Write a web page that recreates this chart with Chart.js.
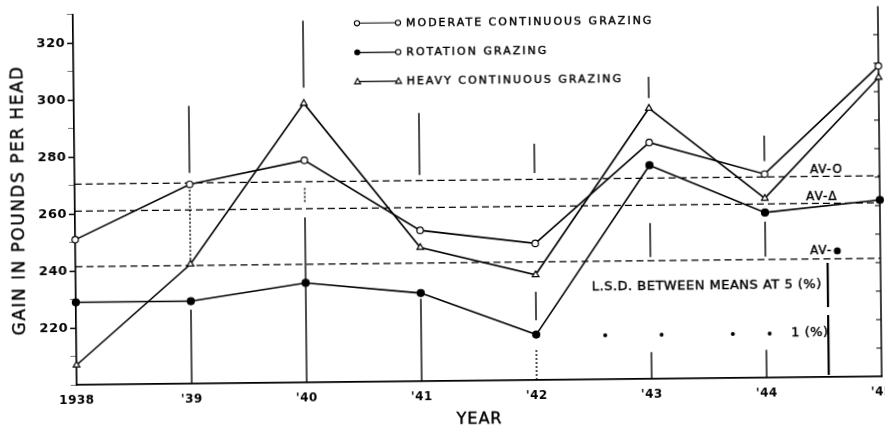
<!DOCTYPE html>
<html><head><meta charset="utf-8">
<script src="https://cdn.jsdelivr.net/npm/chart.js@4.4.1/dist/chart.umd.min.js"></script>
<style>
html,body{margin:0;padding:0;background:#fff;overflow:hidden;width:885px;height:436px}
#wrap{width:885px;height:436px;transform:rotate(-0.6deg);transform-origin:50% 50%;background:#fff}
canvas{display:block}
</style></head><body>
<div id="wrap"><canvas id="c" width="885" height="436"></canvas></div>
<script>
// ---- data ----
const years = [1938,1939,1940,1941,1942,1943,1944,1945];
const xTickLabels = ['1938',"'39","'40","'41","'42","'43","'44","'45"];
const yTickLabels = [220,240,260,280,300,320];
const moderate = [251,270,278,253,248,283,271.5,309];
const rotation = [229,229,235,231,216,275,258,262];
const heavy    = [207,242,298,247,237,295,263,305];
const seriesNames = ['MODERATE CONTINUOUS GRAZING','ROTATION GRAZING','HEAVY CONTINUOUS GRAZING'];
const averages = [270.5, 261, 241.5];          // AV-O, AV-Δ, AV-●
const averageLabels = ['AV-O','AV-Δ','AV-'];
const lsdYear = 1944.54;
const lsd5 = [240.1, 224.6];
const lsd1 = [221.8, 200.8];
const lsdLabels = ['L.S.D. BETWEEN MEANS AT 5 (%)','1 (%)'];
const lsdDotYears = [1942.6, 1943.09, 1943.71, 1944.03];
const lsdDotValue = 215.5;
// vertical year guide segments: [year, fromValue, toValue, dotted]
const gridSegments = [
  [1939, 297.5, 274, 0], [1939, 269.5, 243.5, 1], [1939, 226, 200, 0],
  [1940, 327, 303.5, 0], [1940, 268.3, 263.4, 1], [1940, 258, 200, 0],
  [1941, 294.2, 272.4, 0], [1941, 229, 200, 0],
  [1942, 283, 272.7, 0], [1942, 231, 221, 0], [1942, 210.6, 200, 1],
  [1943, 306, 298.6, 0], [1943, 254.7, 242.8, 0], [1943, 209.5, 200, 0],
  [1944, 285, 276, 0], [1944, 254.8, 242.5, 0], [1944, 209.8, 200, 0]
];

const FONT = '"DejaVu Sans", "Liberation Sans", sans-serif';

function pts(arr){ return years.map((yr,i)=>({x:yr, y:arr[i]})); }
function flat(v){ return [{x:years[0], y:v},{x:years[years.length-1], y:v}]; }
function txt(ctx, s, x, y){ ctx.fillText(s, x, y); ctx.strokeText(s, x, y); }

const deco = {
  id:'deco',
  beforeDraw(chart){ chart.ctx.letterSpacing = '0.5px'; },
  beforeDatasetsDraw(chart){
    const {ctx, chartArea:ca, scales:{x,y}} = chart;
    ctx.save();
    ctx.strokeStyle = '#000';
    ctx.lineWidth = 1.5;
    ctx.beginPath(); ctx.moveTo(ca.right, ca.top); ctx.lineTo(ca.right, ca.bottom); ctx.stroke();
    ctx.lineWidth = 1;
    for (let v = 210; v <= 320; v += 10){
      const py = y.getPixelForValue(v);
      ctx.beginPath(); ctx.moveTo(ca.right-5, py); ctx.lineTo(ca.right, py); ctx.stroke();
    }
    for (const [yr,a,b,dotted] of gridSegments){
      const px = x.getPixelForValue(yr);
      ctx.lineWidth = 1.4;
      ctx.setLineDash(dotted ? [2,2] : []);
      ctx.beginPath(); ctx.moveTo(px, y.getPixelForValue(a)); ctx.lineTo(px, y.getPixelForValue(b)); ctx.stroke();
    }
    ctx.setLineDash([]);
    const lx = x.getPixelForValue(lsdYear);
    ctx.lineWidth = 2.2;
    ctx.beginPath(); ctx.moveTo(lx, y.getPixelForValue(lsd5[0])); ctx.lineTo(lx, y.getPixelForValue(lsd5[1])); ctx.stroke();
    ctx.beginPath(); ctx.moveTo(lx, y.getPixelForValue(lsd1[0])); ctx.lineTo(lx, y.getPixelForValue(lsd1[1])); ctx.stroke();
    ctx.restore();
  },
  afterDraw(chart){
    const {ctx, chartArea:ca, scales:{x,y}} = chart;
    ctx.save();
    ctx.fillStyle = '#000'; ctx.strokeStyle = '#000';
    ctx.lineWidth = 0.4;
    ctx.letterSpacing = '1.5px';
    ctx.font = '17px ' + FONT;
    ctx.textAlign = 'center'; ctx.textBaseline = 'middle';
    ctx.save(); ctx.translate(20, (ca.top+ca.bottom)/2); ctx.rotate(-Math.PI/2);
    txt(ctx, 'GAIN IN POUNDS PER HEAD', 0, 0); ctx.restore();
    ctx.letterSpacing = '1px';
    ctx.font = '16px ' + FONT;
    txt(ctx, 'YEAR', (ca.left+ca.right)/2, 420);

    ctx.letterSpacing = '2px';
    ctx.font = '11px ' + FONT;
    ctx.textAlign = 'left';
    const rows = [22.3, 51.6, 80.6];
    const mx0 = 359, mx1 = 400, tx = 408;
    rows.forEach((ry, i) => {
      ctx.lineWidth = 1.1;
      ctx.beginPath(); ctx.moveTo(mx0, ry); ctx.lineTo(mx1, ry); ctx.stroke();
      const drawMark = (cx, kind) => {
        ctx.lineWidth = 1.1;
        if (kind === 'open'){ ctx.beginPath(); ctx.arc(cx, ry, 2.6, 0, Math.PI*2); ctx.fillStyle='#fff'; ctx.fill(); ctx.stroke(); }
        else if (kind === 'fill'){ ctx.beginPath(); ctx.arc(cx, ry, 3, 0, Math.PI*2); ctx.fillStyle='#000'; ctx.fill(); }
        else { ctx.beginPath(); ctx.moveTo(cx, ry-3.2); ctx.lineTo(cx+3, ry+2.3); ctx.lineTo(cx-3, ry+2.3); ctx.closePath(); ctx.fillStyle='#fff'; ctx.fill(); ctx.stroke(); }
        ctx.fillStyle = '#000';
      };
      if (i === 0){ drawMark(mx0,'open'); drawMark(mx1,'open'); }
      if (i === 1){ drawMark(mx0,'fill'); drawMark(mx1,'open'); }
      if (i === 2){ drawMark(mx0,'tri'); drawMark(mx1,'tri'); }
      ctx.lineWidth = 0.4;
      txt(ctx, seriesNames[i], tx, ry + 0.5);
    });

    ctx.letterSpacing = '1px';
    ctx.font = '12px ' + FONT;
    ctx.textAlign = 'center';
    const ax = x.getPixelForValue(1944.53);
    txt(ctx, averageLabels[0], ax + 1, y.getPixelForValue(averages[0]) - 6);
    txt(ctx, averageLabels[1], ax - 4, y.getPixelForValue(averages[1]) - 6);
    const ay = y.getPixelForValue(averages[2]) - 8;
    ctx.textAlign = 'right';
    txt(ctx, averageLabels[2], ax + 6, ay);
    ctx.beginPath(); ctx.arc(ax + 11, ay, 3.5, 0, Math.PI*2); ctx.fill();

    ctx.letterSpacing = '0.5px';
    ctx.font = '13px ' + FONT;
    ctx.textAlign = 'left';
    txt(ctx, lsdLabels[0], 591, 288.5);
    lsdDotYears.forEach(v => { ctx.beginPath(); ctx.arc(x.getPixelForValue(v), y.getPixelForValue(lsdDotValue), 2, 0, Math.PI*2); ctx.fill(); });
    txt(ctx, lsdLabels[1], 790, y.getPixelForValue(lsdDotValue));
    ctx.restore();
    ctx.letterSpacing = '0px';
  }
};

const common = {borderColor:'#000', borderWidth:1.6, tension:0, clip:false, pointBorderColor:'#000', pointBorderWidth:1.2, pointHoverRadius:0};

new Chart(document.getElementById('c'), {
  type:'line',
  data:{
    datasets:[
      Object.assign({label:seriesNames[0], data:pts(moderate), pointStyle:'circle', pointRadius:3.2, pointBackgroundColor:'#fff'}, common),
      Object.assign({label:seriesNames[1], data:pts(rotation), pointStyle:'circle', pointRadius:3.5, pointBackgroundColor:'#000'}, common),
      Object.assign({label:seriesNames[2], data:pts(heavy), pointStyle:'triangle', pointRadius:3.8, pointBackgroundColor:'#fff'}, common),
      {label:'avO', data:flat(averages[0]), borderColor:'#000', borderWidth:1.3, borderDash:[7,4], pointRadius:0, clip:false},
      {label:'avT', data:flat(averages[1]), borderColor:'#000', borderWidth:1.3, borderDash:[7,4], pointRadius:0, clip:false},
      {label:'avR', data:flat(averages[2]), borderColor:'#000', borderWidth:1.3, borderDash:[7,4], pointRadius:0, clip:false}
    ]
  },
  options:{
    responsive:false, devicePixelRatio:1, animation:false,
    layout:{padding:{left:0, right:5, top:10.7, bottom:0}},
    plugins:{legend:{display:false}, tooltip:{enabled:false}},
    scales:{
      x:{type:'linear', min:years[0], max:years[years.length-1],
        grid:{drawOnChartArea:false, drawTicks:false},
        border:{display:true, color:'#000', width:1.7},
        ticks:{stepSize:1, padding:8, color:'#000', font:{family:FONT, size:12, weight:'bold'},
          callback:(v)=>{ const i = years.indexOf(v); return i>=0 ? xTickLabels[i] : ''; }},
        afterFit:(s)=>{ s.height = 436 - 381.2; s.paddingLeft = 0; s.paddingRight = 0; }
      },
      y:{type:'linear', min:200, max:330,
        grid:{drawOnChartArea:false, drawTicks:true, tickLength:6,
          tickColor:(c)=> (c.tick && yTickLabels.includes(c.tick.value)) ? '#000' : '#777',
          tickWidth:(c)=> (c.tick && yTickLabels.includes(c.tick.value)) ? 1.5 : 1},
        border:{display:true, color:'#000', width:1.7},
        ticks:{stepSize:10, padding:2, color:'#000', font:{family:FONT, size:13, weight:'bold'},
          callback:(v)=> yTickLabels.includes(v) ? String(v) : ''},
        afterFit:(s)=>{ s.width = 75; s.paddingTop = 0; s.paddingBottom = 0; }
      }
    }
  },
  plugins:[deco]
});
</script>
</body></html>
